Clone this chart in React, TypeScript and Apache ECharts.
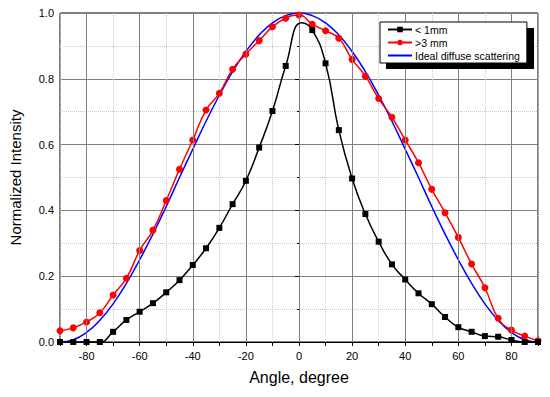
import React, { useEffect, useRef } from "react";
import * as echarts from "echarts";

const angles = [-90, -85, -80, -75, -70, -65, -60, -55, -50, -45, -40, -35, -30, -25, -20, -15, -10, -5, 0, 5, 10, 15, 20, 25, 30, 35, 40, 45, 50, 55, 60, 65, 70, 75, 80, 85, 90];

// "< 1mm" (black squares); the 1° entry is the unmarked peak
const fineAngles = [-90, -85, -80, -75, -70, -65, -60, -55, -50, -45, -40, -35, -30, -25, -20, -15, -10, -5, 1, 5, 10, 15, 20, 25, 30, 35, 40, 45, 50, 55, 60, 65, 70, 75, 80, 85, 90];
const fineValues = [0, 0, 0, 0, 0.031, 0.067, 0.092, 0.118, 0.151, 0.188, 0.234, 0.285, 0.347, 0.419, 0.49, 0.591, 0.702, 0.839, 0.97, 0.948, 0.847, 0.644, 0.497, 0.389, 0.305, 0.236, 0.19, 0.148, 0.115, 0.076, 0.045, 0.031, 0.018, 0.016, 0.006, 0, 0];
const finePeakAngle = 1;

// ">3 mm" (red circles)
const coarseValues = [0.034, 0.043, 0.061, 0.089, 0.143, 0.194, 0.278, 0.34, 0.43, 0.525, 0.614, 0.705, 0.756, 0.829, 0.875, 0.916, 0.958, 0.984, 0.994, 0.966, 0.946, 0.923, 0.859, 0.808, 0.74, 0.683, 0.614, 0.545, 0.464, 0.393, 0.318, 0.237, 0.165, 0.072, 0.036, 0.018, 0.004];

// Ideal diffuse scattering (blue line)
const idealValues = [0, 0.007, 0.029, 0.066, 0.116, 0.178, 0.25, 0.328, 0.412, 0.5, 0.586, 0.671, 0.75, 0.822, 0.883, 0.933, 0.97, 0.992, 1.0, 0.992, 0.97, 0.933, 0.883, 0.822, 0.75, 0.671, 0.586, 0.5, 0.412, 0.328, 0.25, 0.178, 0.116, 0.066, 0.029, 0.007, 0];

const xMajorGrid = [-80, -60, -40, -20, 0, 20, 40, 60, 80];
const seriesNames = ["< 1mm", ">3 mm", "Ideal diffuse scattering"];

const FONT = "Liberation Sans, Arial, sans-serif";

export default function App() {
  const ref = useRef<HTMLDivElement>(null);
  useEffect(() => {
    if (!ref.current) return;
    const chart = echarts.init(ref.current, undefined, { renderer: "svg" });
    const fineData = fineAngles.map((a, i) =>
      a === finePeakAngle ? { value: [a, fineValues[i]], symbol: "none" } : { value: [a, fineValues[i]] }
    );
    chart.setOption({
      animation: false,
      backgroundColor: "#fff",
      textStyle: { fontFamily: FONT },
      grid: {
        left: 58,
        right: 12,
        top: 13,
        bottom: 55,
        show: true,
        borderColor: "#000",
        borderWidth: 1,
        backgroundColor: "transparent",
      },
      legend: {
        orient: "vertical",
        left: 380,
        top: 22,
        z: 10,
        itemGap: 0,
        itemWidth: 24,
        itemHeight: 7,
        padding: [1, 7, 1, 7],
        borderRadius: 0,
        selectedMode: false,
        data: [
          { name: seriesNames[0] },
          { name: seriesNames[1] },
          { name: seriesNames[2], itemStyle: { color: "rgba(0,0,0,0)", borderColor: "rgba(0,0,0,0)", borderWidth: 0 } },
        ],
        backgroundColor: "#fff",
        borderColor: "#000",
        borderWidth: 1,
        textStyle: { fontFamily: FONT, fontSize: 10.5, color: "#000", lineHeight: 13, padding: [0, 0, 0, -2] },
      },
      xAxis: {
        type: "value",
        min: -90,
        max: 90,
        interval: 10,
        name: "Angle, degree",
        nameLocation: "middle",
        nameGap: 27,
        nameTextStyle: { fontFamily: FONT, fontSize: 16, color: "#000" },
        axisLine: { show: true, onZero: false, lineStyle: { color: "#000", width: 1 } },
        axisTick: { show: true, inside: false, length: 4, lineStyle: { color: "#000" } },
        axisLabel: {
          fontFamily: FONT,
          fontSize: 11,
          color: "#000",
          margin: 8,
          formatter: (v: number) => (v % 20 === 0 && Math.abs(v) < 90 ? String(v) : ""),
        },
        splitLine: { show: true, lineStyle: { color: "#c8c8c8", type: "dotted", width: 1 } },
      },
      yAxis: {
        type: "value",
        min: 0,
        max: 1,
        interval: 0.2,
        name: "Normalized Intensity",
        nameLocation: "middle",
        nameGap: 37,
        nameTextStyle: { fontFamily: FONT, fontSize: 15, color: "#000" },
        axisLine: { show: true, lineStyle: { color: "#000", width: 1 } },
        axisTick: { show: true, inside: false, length: 4, lineStyle: { color: "#000" } },
        minorTick: { show: true, splitNumber: 2, length: 2, lineStyle: { color: "#000" } },
        axisLabel: {
          fontFamily: FONT,
          fontSize: 11,
          color: "#000",
          margin: 6,
          formatter: (v: number) => v.toFixed(1),
        },
        splitLine: { show: true, lineStyle: { color: "#808080", width: 1 } },
        minorSplitLine: { show: true, lineStyle: { color: "#c8c8c8", type: "dotted", width: 1 } },
      },
      series: [
        {
          name: "grid",
          type: "line",
          data: [],
          z: 1,
          silent: true,
          markLine: {
            silent: true,
            symbol: ["none", "none"],
            label: { show: false },
            lineStyle: { color: "#808080", type: "solid", width: 1 },
            emphasis: { disabled: true },
            data: xMajorGrid.map((v) => ({ xAxis: v })),
          },
        },
        {
          name: "legendShadow",
          type: "custom",
          z: 8,
          silent: true,
          clip: false,
          data: [[0, 0]],
          renderItem: () => ({
            type: "rect",
            shape: { x: 386, y: 28, width: 148, height: 41 },
            style: { fill: "#000" },
          }),
        },
        {
          name: seriesNames[2],
          type: "line",
          z: 3,
          smooth: 0.5,
          showSymbol: false,
          symbol: "none",
          lineStyle: { color: "#0000ff", width: 1.5 },
          itemStyle: { color: "#0000ff" },
          data: angles.map((a, i) => [a, idealValues[i]]),
        },
        {
          name: seriesNames[1],
          type: "line",
          z: 4,
          smooth: 0.5,
          symbol: "circle",
          symbolSize: 7,
          lineStyle: { color: "#ff0000", width: 1.5 },
          itemStyle: { color: "#ff0000" },
          data: angles.map((a, i) => [a, coarseValues[i]]),
        },
        {
          name: seriesNames[0],
          type: "line",
          z: 5,
          smooth: 0.5,
          symbol: "rect",
          symbolSize: 6,
          lineStyle: { color: "#000", width: 1.5 },
          itemStyle: { color: "#000" },
          data: fineData,
        },
      ],
    });
    return () => chart.dispose();
  }, []);
  return <div ref={ref} style={{ width: 550, height: 397, margin: -8 }} />;
}
